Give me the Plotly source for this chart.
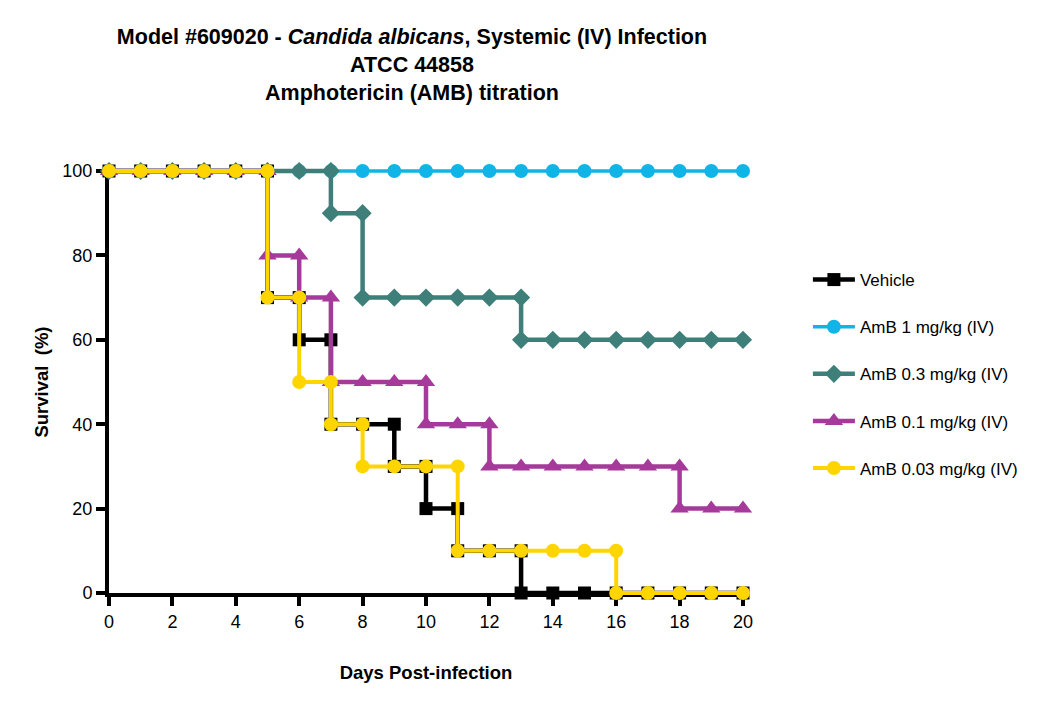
import plotly.graph_objects as go

days = list(range(0, 21))

vehicle = [100, 100, 100, 100, 100, 70, 60, 40, 40, 30, 20, 10, 10, 0, 0, 0, 0, 0, 0, 0, 0]
amb_1 = [100] * 21
amb_03 = [100, 100, 100, 100, 100, 100, 100, 90, 70, 70, 70, 70, 70, 60, 60, 60, 60, 60, 60, 60, 60]
amb_01 = [100, 100, 100, 100, 100, 80, 70, 50, 50, 50, 40, 40, 30, 30, 30, 30, 30, 30, 20, 20, 20]
amb_003 = [100, 100, 100, 100, 100, 70, 50, 40, 30, 30, 30, 10, 10, 10, 10, 10, 0, 0, 0, 0, 0]

series_names = ["Vehicle", "AmB 1 mg/kg (IV)", "AmB 0.3 mg/kg (IV)",
                "AmB 0.1 mg/kg (IV)", "AmB 0.03 mg/kg (IV)"]
series_values = [vehicle, amb_1, amb_03, amb_01, amb_003]
colors = ["#000000", "#10B4E6", "#3E7F7A", "#A53A9B", "#FFD500"]
symbols = ["square", "circle", "diamond", "triangle-up", "circle"]
sizes = [13, 14, 14, 16, 14]
widths = [4.5, 3.5, 4.5, 4.5, 4]

title_text = ("Model #609020 - <i>Candida albicans</i>, Systemic (IV) Infection<br>"
              "ATCC 44858<br>Amphotericin (AMB) titration")
x_ticks = list(range(0, 21, 2))
y_ticks = [0, 20, 40, 60, 80, 100]
x_range = [0, 20]
y_range = [0, 100]


def km_steps(x, y):
    xs, ys = [], []
    for i, (d, v) in enumerate(zip(x, y)):
        if i > 0 and v != y[i - 1]:
            xs.append(d)
            ys.append(y[i - 1])
        xs.append(d)
        ys.append(v)
    return xs, ys


FONT = "Liberation Sans, Arial, sans-serif"
W, H = 1050, 707
ML, MR, MT, MB = 101, 315, 163, 122   # visible plot area margins
PAD = 12                              # extra room so step lines are not clipped
pw, ph = W - ML - MR, H - MT - MB
dx = PAD * (x_range[1] - x_range[0]) / pw
dy = PAD * (y_range[1] - y_range[0]) / ph

fig = go.Figure()
# invisible trace that makes the visible axes subplot render
fig.add_trace(go.Scatter(x=x_range, y=y_range, mode="none", showlegend=False,
                         hoverinfo="skip", xaxis="x", yaxis="y"))
for i, (name, vals) in enumerate(zip(series_names, series_values)):
    xs, ys = km_steps(days, vals)
    fig.add_trace(go.Scatter(
        x=xs, y=ys, name=name, mode="lines+markers",
        xaxis="x2", yaxis="y2",
        line=dict(color=colors[i], width=widths[i]),
        marker=dict(symbol=symbols[i], size=sizes[i], color=colors[i],
                    line=dict(width=0)),
        cliponaxis=False, legendgroup=name,
    ))

fig.update_layout(
    width=W, height=H,
    paper_bgcolor="white", plot_bgcolor="rgba(0,0,0,0)",
    margin=dict(l=ML - PAD, r=MR - PAD, t=MT - PAD, b=MB - PAD),
    title=dict(text=title_text, x=404 / 1050, xanchor="center",
               y=0.9494, yanchor="top",
               font=dict(family=FONT, size=21.5, color="black", weight="bold")),
    font=dict(family=FONT, color="black"),
    legend=dict(x=1.0804, y=0.769, xanchor="left", yanchor="top",
                font=dict(family=FONT, size=17, color="black"),
                tracegroupgap=22, itemwidth=42, bgcolor="rgba(0,0,0,0)"),
    showlegend=True,
    xaxis=dict(
        domain=[PAD / (pw + 2 * PAD), 1 - PAD / (pw + 2 * PAD)], anchor="y",
        range=x_range, tickvals=x_ticks, ticktext=[str(t) for t in x_ticks],
        showgrid=False, zeroline=False, showline=True, linecolor="black", linewidth=4,
        ticks="outside", ticklen=9, tickwidth=4, tickcolor="black",
        tickfont=dict(family=FONT, size=18, color="black"),
        title=dict(text="<b>Days Post-infection</b>", standoff=36,
                   font=dict(family=FONT, size=18.5, color="black")),
        fixedrange=True,
    ),
    yaxis=dict(
        domain=[PAD / (ph + 2 * PAD), 1 - PAD / (ph + 2 * PAD)], anchor="x",
        range=y_range, tickvals=y_ticks, ticktext=[str(t) for t in y_ticks],
        showgrid=False, zeroline=False, showline=True, linecolor="black", linewidth=4,
        ticks="outside", ticklen=9, tickwidth=4, tickcolor="black",
        tickfont=dict(family=FONT, size=18, color="black"),
        title=dict(text="<b>Survival  (%)</b>", standoff=10,
                   font=dict(family=FONT, size=18.5, color="black")),
        fixedrange=True,
    ),
    xaxis2=dict(domain=[0, 1], anchor="y2", range=[x_range[0] - dx, x_range[1] + dx],
                visible=False, fixedrange=True),
    yaxis2=dict(domain=[0, 1], anchor="x2", range=[y_range[0] - dy, y_range[1] + dy],
                visible=False, fixedrange=True),
)

fig.write_html("out.html")
